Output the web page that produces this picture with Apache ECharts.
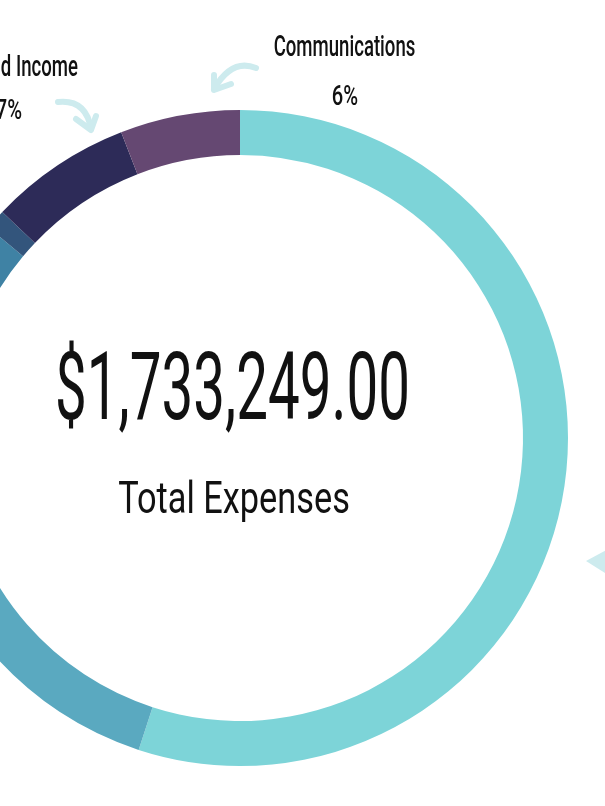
<!DOCTYPE html>
<html>
<head>
<meta charset="utf-8">
<script src="https://cdn.jsdelivr.net/npm/echarts@6/dist/echarts.min.js"></script>
<style>
html,body{margin:0;padding:0;background:#fff;}
#chart{width:605px;height:806px;}
</style>
</head>
<body>
<div id="chart"></div>
<script>
// Slices clockwise from 12 o'clock (percent of total expenses)
var categories = ['Salaries & Benefits', 'Programs', 'Operations', 'Insurance', 'Fund Income', 'Communications'];
var shares = [55.0, 17.1, 14.0, 1.0, 7.0, 5.9];
var colors = ['#7dd4d8', '#5aa9c0', '#3f82a4', '#33557c', '#2d2b58', '#654872'];
var shownLabels = ['7%', '6%'];
var totalText = '$1,733,249.00';
var subtitle = 'Total Expenses';

var chart = echarts.init(document.getElementById('chart'), null, {renderer: 'canvas'});
var FONT = 'Roboto';
var arrowColor = '#cdebee';

function txt(text, x, y, size, align, sx, weight) {
  return {
    type: 'text', x: x, y: y, scaleX: sx, z: 10,
    style: {text: text, font: (weight || 400) + ' ' + size + 'px ' + FONT, fill: '#111',
            textAlign: align, align: align, textVerticalAlign: 'top', verticalAlign: 'top'}
  };
}

var option = {
  backgroundColor: '#ffffff',
  animation: false,
  series: [{
    type: 'pie',
    center: [240, 438],
    radius: [283, 328],
    startAngle: 90,
    clockwise: true,
    label: {show: false},
    labelLine: {show: false},
    silent: true,
    itemStyle: {borderWidth: 0},
    data: categories.map(function (c, i) {
      return {name: c, value: shares[i], itemStyle: {color: colors[i]}};
    })
  }],
  graphic: [
    txt(totalText, 232.5, 348, 95, 'center', 0.595, 400),
    txt(subtitle, 234, 480, 44, 'center', 0.78, 400),
    txt(categories[5], 344.5, 33, 30, 'center', 0.62, 500),
    txt(shownLabels[1], 345, 84, 28, 'center', 0.72, 500),
    txt(categories[4], 78, 53, 30, 'right', 0.62, 500),
    txt(shownLabels[0], 22, 98, 28, 'right', 0.72, 500),
    // arrows
    {type: 'bezierCurve', z: 5, shape: {x1: 256, y1: 68, cpx1: 232, cpy1: 58, x2: 214, y2: 89},
     style: {stroke: arrowColor, lineWidth: 6, lineCap: 'round', fill: 'none'}},
    {type: 'polyline', z: 5, shape: {points: [[214, 75], [214, 90], [231, 84]]},
     style: {stroke: arrowColor, lineWidth: 6, lineCap: 'round', lineJoin: 'round', fill: 'none'}},
    {type: 'bezierCurve', z: 5, shape: {x1: 58, y1: 102, cpx1: 86, cpy1: 99, x2: 91, y2: 129},
     style: {stroke: arrowColor, lineWidth: 6, lineCap: 'round', fill: 'none'}},
    {type: 'polyline', z: 5, shape: {points: [[76, 119], [91, 130], [96, 116]]},
     style: {stroke: arrowColor, lineWidth: 6, lineCap: 'round', lineJoin: 'round', fill: 'none'}},
    {type: 'polygon', z: 5, shape: {points: [[586, 561], [608, 549], [608, 575]]},
     style: {fill: arrowColor}}
  ]
};
chart.setOption(option);
</script>
</body>
</html>
